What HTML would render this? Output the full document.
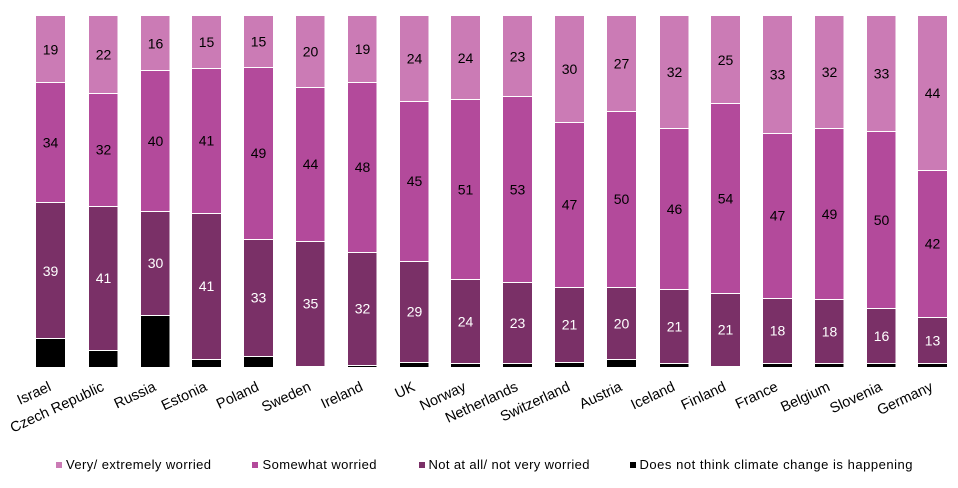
<!DOCTYPE html>
<html><head><meta charset="utf-8"><style>
html,body{margin:0;padding:0;background:#fff;}
svg{display:block;}
text{font-family:"Liberation Sans",Arial,sans-serif;}
</style></head><body>
<svg width="958" height="488" viewBox="0 0 958 488" xmlns="http://www.w3.org/2000/svg">
<defs>
<style>
.a{fill:#CB7BB5}.b{fill:#B34A9B}.c{fill:#7A3067}.d{fill:#000}.w{fill:#fff}
.n{font-size:14px;text-anchor:middle;fill:#000}
.m{font-size:14px;text-anchor:middle;fill:#fff}
.l{font-size:14.5px;text-anchor:end;fill:#000}
.g{font-size:13px;fill:#000}
</style>
</defs>

<!-- Israel -->
<g>
<rect class="a" x="36" y="16" width="29" height="66"/>
<rect class="b" x="36" y="83" width="29" height="119"/>
<rect class="c" x="36" y="203" width="29" height="135"/>
<rect class="d" x="36" y="339" width="29" height="28"/>
<text class="n" x="50.5" y="54.3">19</text>
<text class="n" x="50.5" y="147.5">34</text>
<text class="m" x="50.5" y="275.8">39</text>
</g>
<!-- Czech -->
<g>
<rect class="a" x="89" y="16" width="28.5" height="77"/>
<rect class="b" x="89" y="94" width="28.5" height="112"/>
<rect class="c" x="89" y="207" width="28.5" height="143"/>
<rect class="d" x="89" y="351" width="28.5" height="16"/>
<text class="n" x="103.5" y="59.5">22</text>
<text class="n" x="103.5" y="154.5">32</text>
<text class="m" x="103.5" y="283">41</text>
</g>
<!-- Russia -->
<g>
<rect class="a" x="141" y="16" width="28.5" height="54"/>
<rect class="b" x="141" y="71" width="28.5" height="140"/>
<rect class="c" x="141" y="212" width="28.5" height="103"/>
<rect class="d" x="141" y="316" width="28.5" height="51"/>
<text class="n" x="155.5" y="48.3">16</text>
<text class="n" x="155.5" y="145.8">40</text>
<text class="m" x="155.5" y="268">30</text>
</g>
<!-- Estonia -->
<g>
<rect class="a" x="192" y="16" width="29" height="52"/>
<rect class="b" x="192" y="69" width="29" height="144"/>
<rect class="c" x="192" y="214" width="29" height="145"/>
<rect class="d" x="192" y="360" width="29" height="7"/>
<text class="n" x="206.5" y="47">15</text>
<text class="n" x="206.5" y="145.5">41</text>
<text class="m" x="206.5" y="291">41</text>
</g>
<!-- Poland -->
<g>
<rect class="a" x="244" y="16" width="29" height="51"/>
<rect class="b" x="244" y="68" width="29" height="171"/>
<rect class="c" x="244" y="240" width="29" height="116"/>
<rect class="d" x="244" y="357" width="29" height="10"/>
<text class="n" x="258.5" y="46.5">15</text>
<text class="n" x="258.5" y="158">49</text>
<text class="m" x="258.5" y="302.5">33</text>
</g>
<!-- Sweden -->
<g>
<rect class="a" x="296" y="16" width="28.5" height="71"/>
<rect class="b" x="296" y="88" width="28.5" height="153"/>
<rect class="c" x="296" y="242" width="28.5" height="124"/>
<text class="n" x="310.5" y="56.5">20</text>
<text class="n" x="310.5" y="169">44</text>
<text class="m" x="310.5" y="308.5">35</text>
</g>
<!-- Ireland -->
<g>
<rect class="a" x="348" y="16" width="28.5" height="66"/>
<rect class="b" x="348" y="83" width="28.5" height="169"/>
<rect class="c" x="348" y="253" width="28.5" height="112"/>
<rect class="d" x="348" y="366" width="28.5" height="1"/>
<text class="n" x="362.5" y="54">19</text>
<text class="n" x="362.5" y="172">48</text>
<text class="m" x="362.5" y="313.5">32</text>
</g>
<!-- UK -->
<g>
<rect class="a" x="400" y="16" width="28.5" height="85"/>
<rect class="b" x="400" y="102" width="28.5" height="159"/>
<rect class="c" x="400" y="262" width="28.5" height="100"/>
<rect class="d" x="400" y="363" width="28.5" height="4"/>
<text class="n" x="414.5" y="63.5">24</text>
<text class="n" x="414.5" y="186">45</text>
<text class="m" x="414.5" y="316.5">29</text>
</g>
<!-- Norway -->
<g>
<rect class="a" x="451" y="16" width="29" height="83"/>
<rect class="b" x="451" y="100" width="29" height="179"/>
<rect class="c" x="451" y="280" width="29" height="83"/>
<rect class="d" x="451" y="364" width="29" height="3"/>
<text class="n" x="465.5" y="62.8">24</text>
<text class="n" x="465.5" y="194.3">51</text>
<text class="m" x="465.5" y="326.3">24</text>
</g>
<!-- Netherlands -->
<g>
<rect class="a" x="503" y="16" width="29" height="80"/>
<rect class="b" x="503" y="97" width="29" height="185"/>
<rect class="c" x="503" y="283" width="29" height="80"/>
<rect class="d" x="503" y="364" width="29" height="3"/>
<text class="n" x="517.5" y="61.3">23</text>
<text class="n" x="517.5" y="194.3">53</text>
<text class="m" x="517.5" y="327.8">23</text>
</g>
<!-- Switzerland -->
<g>
<rect class="a" x="555" y="16" width="29" height="106"/>
<rect class="b" x="555" y="123" width="29" height="164"/>
<rect class="c" x="555" y="288" width="29" height="74"/>
<rect class="d" x="555" y="363" width="29" height="4"/>
<text class="n" x="569.5" y="74">30</text>
<text class="n" x="569.5" y="209.5">47</text>
<text class="m" x="569.5" y="329.5">21</text>
</g>
<!-- Austria -->
<g>
<rect class="a" x="607" y="16" width="29" height="95"/>
<rect class="b" x="607" y="112" width="29" height="175"/>
<rect class="c" x="607" y="288" width="29" height="71"/>
<rect class="d" x="607" y="360" width="29" height="7"/>
<text class="n" x="621.5" y="68.5">27</text>
<text class="n" x="621.5" y="204">50</text>
<text class="m" x="621.5" y="328.3">20</text>
</g>
<!-- Iceland -->
<g>
<rect class="a" x="660" y="16" width="28.5" height="112"/>
<rect class="b" x="660" y="129" width="28.5" height="160"/>
<rect class="c" x="660" y="290" width="28.5" height="73"/>
<rect class="d" x="660" y="364" width="28.5" height="3"/>
<text class="n" x="674.5" y="77">32</text>
<text class="n" x="674.5" y="213.8">46</text>
<text class="m" x="674.5" y="331.5">21</text>
</g>
<!-- Finland -->
<g>
<rect class="a" x="711" y="16" width="29" height="87"/>
<rect class="b" x="711" y="104" width="29" height="189"/>
<rect class="c" x="711" y="294" width="29" height="72"/>
<text class="n" x="725.5" y="64.8">25</text>
<text class="n" x="725.5" y="203.3">54</text>
<text class="m" x="725.5" y="334.5">21</text>
</g>
<!-- France -->
<g>
<rect class="a" x="763" y="16" width="29" height="117"/>
<rect class="b" x="763" y="134" width="29" height="164"/>
<rect class="c" x="763" y="299" width="29" height="64"/>
<rect class="d" x="763" y="364" width="29" height="3"/>
<text class="n" x="777.5" y="79.5">33</text>
<text class="n" x="777.5" y="220.5">47</text>
<text class="m" x="777.5" y="335.5">18</text>
</g>
<!-- Belgium -->
<g>
<rect class="a" x="815" y="16" width="28.5" height="112"/>
<rect class="b" x="815" y="129" width="28.5" height="170"/>
<rect class="c" x="815" y="300" width="28.5" height="63"/>
<rect class="d" x="815" y="364" width="28.5" height="3"/>
<text class="n" x="829.5" y="77">32</text>
<text class="n" x="829.5" y="218.8">49</text>
<text class="m" x="829.5" y="336.5">18</text>
</g>
<!-- Slovenia -->
<g>
<rect class="a" x="867" y="16" width="28.5" height="115"/>
<rect class="b" x="867" y="132" width="28.5" height="176"/>
<rect class="c" x="867" y="309" width="28.5" height="54"/>
<rect class="d" x="867" y="364" width="28.5" height="3"/>
<text class="n" x="881.5" y="78.5">33</text>
<text class="n" x="881.5" y="224.8">50</text>
<text class="m" x="881.5" y="341">16</text>
</g>
<!-- Germany -->
<g>
<rect class="a" x="918" y="16" width="29" height="154"/>
<rect class="b" x="918" y="171" width="29" height="146"/>
<rect class="c" x="918" y="318" width="29" height="45"/>
<rect class="d" x="918" y="364" width="29" height="3"/>
<text class="n" x="932.5" y="98">44</text>
<text class="n" x="932.5" y="248.5">42</text>
<text class="m" x="932.5" y="345.3">13</text>
</g>

<!-- Category labels -->
<text class="l" x="52" y="390" transform="rotate(-25 52 390)">Israel</text>
<text class="l" x="105" y="390" transform="rotate(-25 105 390)">Czech Republic</text>
<text class="l" x="157" y="390" transform="rotate(-25 157 390)">Russia</text>
<text class="l" x="208" y="390" transform="rotate(-25 208 390)">Estonia</text>
<text class="l" x="260" y="390" transform="rotate(-25 260 390)">Poland</text>
<text class="l" x="312" y="390" transform="rotate(-25 312 390)">Sweden</text>
<text class="l" x="364" y="390" transform="rotate(-25 364 390)">Ireland</text>
<text class="l" x="416" y="390" transform="rotate(-25 416 390)">UK</text>
<text class="l" x="467" y="390" transform="rotate(-25 467 390)">Norway</text>
<text class="l" x="519" y="390" transform="rotate(-25 519 390)">Netherlands</text>
<text class="l" x="571" y="390" transform="rotate(-25 571 390)">Switzerland</text>
<text class="l" x="623" y="390" transform="rotate(-25 623 390)">Austria</text>
<text class="l" x="676" y="390" transform="rotate(-25 676 390)">Iceland</text>
<text class="l" x="727" y="390" transform="rotate(-25 727 390)">Finland</text>
<text class="l" x="779" y="390" transform="rotate(-25 779 390)">France</text>
<text class="l" x="831" y="390" transform="rotate(-25 831 390)">Belgium</text>
<text class="l" x="883" y="390" transform="rotate(-25 883 390)">Slovenia</text>
<text class="l" x="934" y="390" transform="rotate(-25 934 390)">Germany</text>

<!-- Legend -->
<rect class="a" x="56" y="462" width="6" height="6"/>
<text class="g" x="66" y="469" textLength="145" lengthAdjust="spacing">Very/ extremely worried</text>
<rect class="b" x="252" y="462" width="6" height="6"/>
<text class="g" x="262.5" y="469" textLength="114" lengthAdjust="spacing">Somewhat worried</text>
<rect class="c" x="419" y="462" width="6" height="6"/>
<text class="g" x="428.5" y="469" textLength="161" lengthAdjust="spacing">Not at all/ not very worried</text>
<rect class="d" x="630" y="462" width="6" height="6"/>
<text class="g" x="639.5" y="469" textLength="273" lengthAdjust="spacing">Does not think climate change is happening</text>
</svg>
</body></html>
